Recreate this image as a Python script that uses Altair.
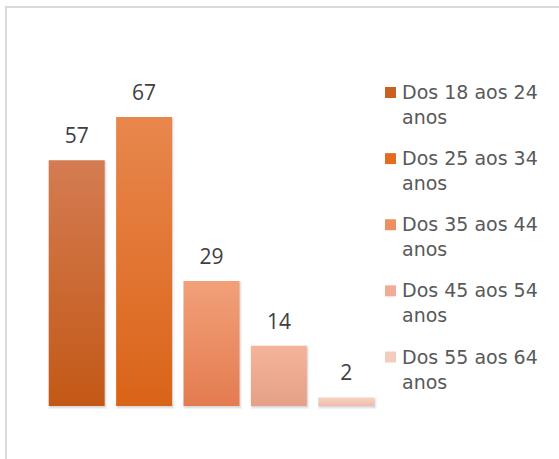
import altair as alt
import pandas as pd

categories = ["Dos 18 aos 24 anos", "Dos 25 aos 34 anos", "Dos 35 aos 44 anos",
              "Dos 45 aos 54 anos", "Dos 55 aos 64 anos"]
values = [57, 67, 29, 14, 2]
legend_labels = ["Dos 18 aos 24\nanos", "Dos 25 aos 34\nanos", "Dos 35 aos 44\nanos",
                 "Dos 45 aos 54\nanos", "Dos 55 aos 64\nanos"]

grad_top = ["#D47C52", "#E8874D", "#F2A079", "#F5B49A", "#F8D2C4"]
grad_bot = ["#C35816", "#DA6418", "#E47C50", "#E6A088", "#F0BCAA"]
square_colors = ["#C9601F", "#E36C1F", "#EE8F62", "#F0AC94", "#F3CCBE"]

df = pd.DataFrame({"cat": categories, "value": values, "legend": legend_labels})

W, H = 337, 345
xs = alt.Scale(domain=categories, paddingInner=0.17, paddingOuter=0.085)
ys = alt.Scale(domain=[0, 80], nice=False, zero=True)

base = alt.Chart(df)

border = base.transform_filter("datum.value == 57").mark_rect(
    fillOpacity=0, stroke="#D9D9D9", strokeWidth=2
).encode(x=alt.value(-37), x2=alt.value(620), y=alt.value(-54), y2=alt.value(520))

shadow = base.mark_bar(
    color="#000000", fillOpacity=0.10, stroke="#000000", strokeOpacity=0.05,
    strokeWidth=3, xOffset=1, yOffset=1.5
).encode(
    x=alt.X("cat:N", scale=xs, axis=None, sort=categories),
    y=alt.Y("value:Q", scale=ys, axis=None),
)

bars = []
for i, c in enumerate(categories):
    g = alt.Gradient(
        gradient="linear",
        stops=[alt.GradientStop(color=grad_top[i], offset=0),
               alt.GradientStop(color=grad_bot[i], offset=1)],
        x1=0, x2=0, y1=0, y2=1,
    )
    bars.append(
        base.transform_filter(alt.datum.cat == c).mark_bar(color=g).encode(
            x=alt.X("cat:N", scale=xs, axis=None, sort=categories),
            y=alt.Y("value:Q", scale=ys, axis=None),
        )
    )

labels = base.mark_text(
    font="Open Sans", fontSize=21, color="#404040", baseline="alphabetic", dy=-17
).encode(
    x=alt.X("cat:N", scale=xs, axis=None, sort=categories),
    y=alt.Y("value:Q", scale=ys, axis=None),
    text=alt.Text("value:Q"),
)

ly = alt.Scale(domain=categories, range=[31.5, 296], padding=0)
leg_sq = base.mark_square(size=121, opacity=1).encode(
    x=alt.value(347.5),
    y=alt.Y("cat:N", scale=ly, axis=None, sort=categories),
    color=alt.Color("cat:N", scale=alt.Scale(domain=categories, range=square_colors), legend=None),
)
leg_txt = base.mark_text(
    font="DejaVu Sans", fontSize=19, color="#595959", align="left",
    baseline="alphabetic", dy=6.5, lineBreak="\n", lineHeight=25
).encode(
    x=alt.value(359),
    y=alt.Y("cat:N", scale=ly, axis=None, sort=categories),
    text="legend:N",
)

chart = alt.layer(border, shadow, *bars, labels, leg_sq, leg_txt).resolve_scale(
    x="independent", y="independent", color="independent"
).properties(
    width=W, height=H,
    background="white",
    autosize=alt.AutoSizeParams(type="none"),
    padding={"left": 43, "top": 61, "right": 179, "bottom": 53},
).configure_view(strokeWidth=0, stroke="transparent")

chart.save("out.html", embed_options={"renderer": "svg", "actions": False})
